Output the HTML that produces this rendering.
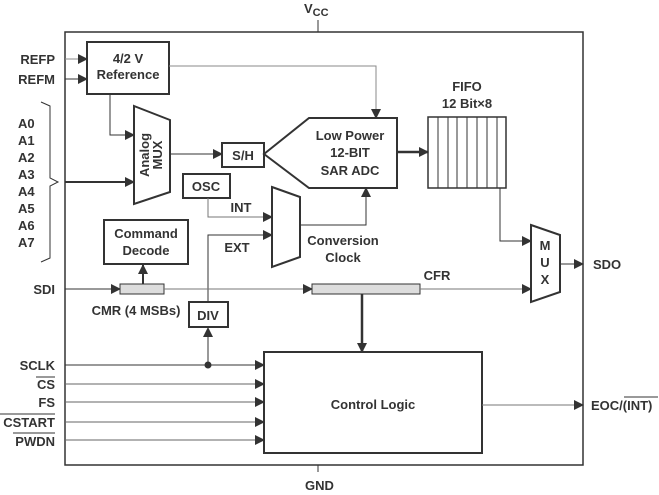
<!DOCTYPE html>
<html><head><meta charset="utf-8"><style>
body{margin:0;background:#fff}
svg{display:block;font-family:"Liberation Sans",Arial,sans-serif;font-weight:bold;fill:#333}
text{fill:#333;font-size:13px}
</style></head><body>
<svg width="659" height="495" viewBox="0 0 659 495">
<defs>
<marker id="a" markerWidth="10" markerHeight="10" refX="9" refY="5" orient="auto" markerUnits="userSpaceOnUse"><path d="M0,0 L10,5 L0,10 z" fill="#333"/></marker>
</defs>
<g stroke="#333" fill="none">
<rect x="65" y="32" width="518" height="433" stroke-width="1.5"/>
<line x1="318" y1="20" x2="318" y2="32"/>
<line x1="318" y1="465" x2="318" y2="472"/>
<!-- ref -->
<rect x="87" y="42" width="82" height="52" stroke-width="2"/>
<line x1="65" y1="59" x2="87" y2="59" marker-end="url(#a)" stroke="#888"/>
<line x1="65" y1="79" x2="87" y2="79" marker-end="url(#a)"/>
<polyline points="169,66 376,66 376,118" marker-end="url(#a)" stroke="#888"/>
<polyline points="110,94 110,135 134,135" marker-end="url(#a)"/>
<!-- brace -->
<polyline points="41,102 50,106 50,178 58,182 50,186 50,258 41,262" stroke-width="1"/>
<line x1="65" y1="182" x2="134" y2="182" stroke-width="2" marker-end="url(#a)"/>
<!-- analog mux -->
<polygon points="134,106 170,120 170,192 134,204" stroke-width="2"/>
<line x1="170" y1="154" x2="222" y2="154" marker-end="url(#a)"/>
<rect x="222" y="143" width="42" height="24" stroke-width="2"/>
<polygon points="264,154 309,118 397,118 397,188 309,188" stroke-width="2"/>
<line x1="397" y1="152" x2="428" y2="152" stroke-width="2.5" marker-end="url(#a)"/>
<rect x="428" y="117" width="78" height="71" stroke-width="1.5"/>
<g stroke-width="1">
<line x1="438" y1="117" x2="438" y2="188"/><line x1="448" y1="117" x2="448" y2="188"/><line x1="457" y1="117" x2="457" y2="188"/><line x1="467" y1="117" x2="467" y2="188"/><line x1="477" y1="117" x2="477" y2="188"/><line x1="487" y1="117" x2="487" y2="188"/><line x1="497" y1="117" x2="497" y2="188"/>
</g>
<polyline points="500,188 500,241 531,241" marker-end="url(#a)"/>
<polygon points="531,225 560,235 560,292 531,302" stroke-width="2"/>
<line x1="560" y1="264" x2="583" y2="264" marker-end="url(#a)"/>
<!-- osc / clock -->
<rect x="183" y="174" width="47" height="24" stroke-width="2"/>
<polyline points="208,198 208,217 272,217" marker-end="url(#a)" stroke="#777"/>
<polyline points="208,302 208,235 272,235" marker-end="url(#a)"/>
<polygon points="272,187 300,197 300,257 272,267" stroke-width="2"/>
<polyline points="300,225 366,225 366,188" marker-end="url(#a)"/>
<!-- command decode -->
<rect x="104" y="220" width="84" height="44" stroke-width="2"/>
<line x1="143" y1="284" x2="143" y2="265" stroke-width="2" marker-end="url(#a)"/>
<line x1="65" y1="289" x2="120" y2="289" marker-end="url(#a)"/>
<rect x="120" y="284" width="44" height="10" fill="#ddd"/>
<line x1="164" y1="289" x2="312" y2="289" stroke="#777" marker-end="url(#a)"/>
<rect x="312" y="284" width="108" height="10" fill="#ddd"/>
<line x1="420" y1="289" x2="531" y2="289" stroke="#777" marker-end="url(#a)"/>
<line x1="362" y1="294" x2="362" y2="352" stroke-width="2.5" marker-end="url(#a)"/>
<rect x="189" y="302" width="39" height="25" stroke-width="2"/>
<line x1="208" y1="365" x2="208" y2="328" marker-end="url(#a)"/>
<circle cx="208" cy="365" r="3" fill="#333"/>
<rect x="264" y="352" width="218" height="101" stroke-width="2"/>
<line x1="65" y1="365" x2="264" y2="365" marker-end="url(#a)"/>
<line x1="65" y1="384" x2="264" y2="384" marker-end="url(#a)" stroke="#666"/>
<line x1="65" y1="402" x2="264" y2="402" marker-end="url(#a)" stroke="#666"/>
<line x1="65" y1="422" x2="264" y2="422" marker-end="url(#a)" stroke="#666"/>
<line x1="65" y1="440" x2="264" y2="440" marker-end="url(#a)" stroke="#666"/>
<line x1="482" y1="405" x2="583" y2="405" stroke="#777" marker-end="url(#a)"/>
<!-- overlines -->
<line x1="36" y1="377" x2="55" y2="377"/>
<line x1="0" y1="414" x2="55" y2="414"/>
<line x1="13" y1="433" x2="55" y2="433"/>
<line x1="624" y1="397" x2="658" y2="397"/>
</g>
<text x="304" y="13" font-size="14">V<tspan font-size="11" dy="3">CC</tspan></text>
<text x="305" y="490">GND</text>
<g text-anchor="end">
<text x="55" y="64">REFP</text><text x="55" y="84">REFM</text>
<text x="55" y="294">SDI</text>
<text x="55" y="370">SCLK</text><text x="55" y="389">CS</text><text x="55" y="407">FS</text><text x="55" y="427">CSTART</text><text x="55" y="446">PWDN</text>
</g>
<g>
<text x="18" y="128">A0</text><text x="18" y="145">A1</text><text x="18" y="162">A2</text><text x="18" y="179">A3</text><text x="18" y="196">A4</text><text x="18" y="213">A5</text><text x="18" y="230">A6</text><text x="18" y="247">A7</text>
</g>
<g text-anchor="middle" font-size="12">
<text x="128" y="63" font-size="12">4/2 V</text>
<text x="128" y="79" font-size="12">Reference</text>
<text x="243" y="160" font-size="12">S/H</text>
<text x="350" y="140" font-size="12">Low Power</text>
<text x="350" y="157" font-size="12">12-BIT</text>
<text x="350" y="175" font-size="12">SAR ADC</text>
<text x="467" y="91" font-size="12">FIFO</text>
<text x="467" y="108" font-size="12">12 Bit×8</text>
<text x="206" y="191" font-size="12">OSC</text>
<text x="241" y="212" font-size="12">INT</text>
<text x="237" y="252" font-size="12">EXT</text>
<text x="343" y="245" font-size="12">Conversion</text>
<text x="343" y="262" font-size="12">Clock</text>
<text x="146" y="238" font-size="12">Command</text>
<text x="146" y="255" font-size="12">Decode</text>
<text x="437" y="280" font-size="12">CFR</text>
<text x="136" y="315" font-size="12">CMR (4 MSBs)</text>
<text x="208" y="320" font-size="12">DIV</text>
<text x="373" y="409" font-size="12">Control Logic</text>
<text x="545" y="250" font-size="12">M</text>
<text x="545" y="267" font-size="12">U</text>
<text x="545" y="284" font-size="12">X</text>
<text transform="translate(151,155) rotate(-90)" font-size="12"><tspan x="0" dy="-2">Analog</tspan><tspan x="0" dy="13">MUX</tspan></text>
</g>
<text x="593" y="269">SDO</text>
<text x="591" y="410" font-size="12">EOC/(INT)</text>
</svg>
</body></html>
